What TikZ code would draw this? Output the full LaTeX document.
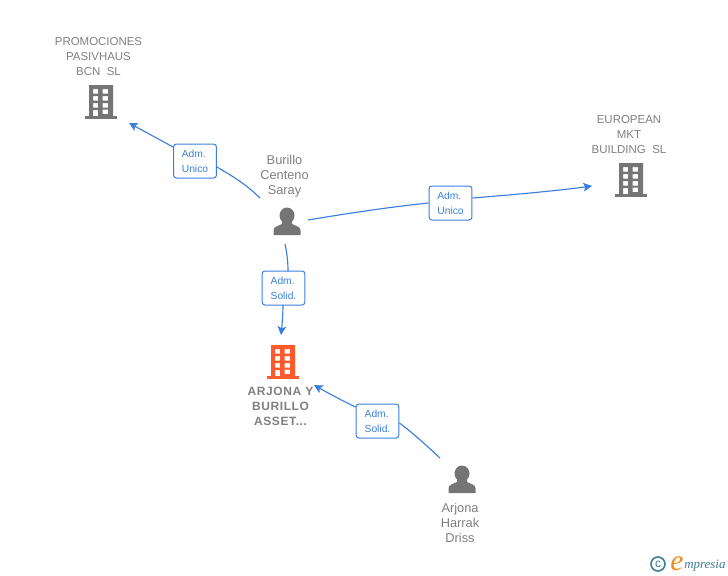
\documentclass[tikz,border=0pt]{standalone}
\usepackage{fontspec}
\setmainfont{Liberation Sans}
\newfontfamily\logofont{Liberation Serif}
\usetikzlibrary{arrows.meta}
\definecolor{namegray}{HTML}{808080}
\definecolor{icongray}{HTML}{757575}
\definecolor{iconorange}{HTML}{FF5A2B}
\definecolor{linkblue}{HTML}{3B7FDE}
\definecolor{logoblue}{HTML}{3F7C96}
\definecolor{logoorange}{HTML}{F28A1E}
\tikzset{
  x=.75pt,y=-.75pt,
  pics/bldg/.style={code={
    \fill[#1,even odd rule]
      (-12,-17) rectangle (12,14)
      (-8,-13) rectangle (-3,-8.5) (1.5,-13) rectangle (7,-8.5)
      (-8,-6) rectangle (-3,-1.5) (1.5,-6) rectangle (7,-1.5)
      (-8,1) rectangle (-3,5.5) (1.5,1) rectangle (7,5.5)
      (-8,8) rectangle (-3,14) (1.5,7.5) rectangle (7,12);
    \fill[#1] (-16,14) rectangle (16,17);
  }},
  pics/persona/.style={code={
    \fill[#1] (0,-6.5) ellipse [x radius=7.5,y radius=8];
    \fill[#1] (-13.5,13) -- (-13.5,8.5) .. controls (-13.5,4.5) and (-9,4) .. (-5,2)
      -- (-5,-2) -- (5,-2) -- (5,2) .. controls (9,4) and (13.5,4.5) .. (13.5,8.5) -- (13.5,13) -- cycle;
  }},
  iconspot/.style={inner sep=0pt,minimum size=1pt},
  nametext/.style={text=namegray,align=center,inner sep=0pt,font=\fontsize{8.6pt}{11.25pt}\selectfont},
  persontext/.style={text=namegray,align=center,inner sep=0pt,font=\fontsize{9.6pt}{11.25pt}\selectfont},
  targettext/.style={text=namegray,align=center,inner sep=0pt,font=\fontsize{9pt}{11.25pt}\selectfont\bfseries\addfontfeature{LetterSpace=5}},
  linkbox/.style={draw=linkblue,fill=white,rounded corners=2.2pt,line width=.75pt,text=linkblue,
    minimum width=32.2pt,minimum height=25.5pt,inner sep=0pt,align=left,
    font=\fontsize{7.7pt}{11.25pt}\selectfont},
  link/.style={draw=linkblue,line width=.85pt},
  linkarrow/.style={link,-{Stealth[length=6.5pt,width=6.5pt,inset=1.5pt]}},
}
\begin{document}
\begin{tikzpicture}
\useasboundingbox (0,0) rectangle (728,575);
\fill[white] (0,0) rectangle (728,575);

% icons
\node[iconspot] (promo) at (101,102) {};
\pic at (promo) {bldg=icongray};
\node[iconspot] (euro) at (631,180) {};
\pic at (euro) {bldg=icongray};
\node[iconspot] (arjona) at (283,362) {};
\pic at (arjona) {bldg=iconorange};
\node[iconspot] (saray) at (287,222) {};
\pic at (saray) {persona=icongray};
\node[iconspot] (driss) at (462,480) {};
\pic at (driss) {persona=icongray};

% texts
\node[nametext] (promotxt) at (98.5,56.5) {PROMOCIONES\\PASIVHAUS\\BCN\ \ SL};
\node[nametext] (eurotxt) at (629,134.5) {EUROPEAN\\MKT\\BUILDING\ \ SL};
\node[targettext] (arjonatxt) at (280.5,406) {ARJONA Y\\BURILLO\\ASSET...};
\node[persontext] (saraytxt) at (284.5,176.5) {Burillo\\Centeno\\Saray};
\node[persontext] (drisstxt) at (460,522.5) {Arjona\\Harrak\\Driss};

% link labels
\node[linkbox] (l1) at (195,161) {Adm.\\Unico};
\node[linkbox] (l2) at (450.5,203) {Adm.\\Unico};
\node[linkbox] (l3) at (283.5,288) {Adm.\\Solid.};
\node[linkbox] (l4) at (377.5,421) {Adm.\\Solid.};

% connector ends
\coordinate (s1) at (260,198);
\coordinate (t1) at (129,123);
\coordinate (s2) at (308,220);
\coordinate (t2) at (592,186);
\coordinate (s3) at (285,244);
\coordinate (t3) at (281,335);
\coordinate (s4) at (440,458);
\coordinate (t4) at (314,385);

% connectors
\draw[link] (s1) .. controls (246,184) and (232,176) .. (l1.east |- 0,167);
\draw[linkarrow] (l1.west |- 0,147) -- (t1);
\draw[link] (s2) .. controls (350,213) and (390,207) .. (l2.west |- 0,203);
\draw[linkarrow] (l2.east |- 0,198) .. controls (510,195) and (555,191) .. (t2);
\draw[link] (s3) .. controls (287,253) and (288,262) .. (288,271);
\draw[linkarrow] (283,305) .. controls (283,315) and (282,325) .. (t3);
\draw[link] (s4) .. controls (427,446) and (413,433) .. (l4.east |- 0,423);
\draw[linkarrow] (l4.west |- 0,407) .. controls (341,400) and (328,393) .. (t4);

% logo
\node[draw=logoblue,line width=1.2pt,circle,minimum size=10.5pt,inner sep=0pt,text=logoblue,
  font=\fontsize{9pt}{9pt}\selectfont] (copyr) at (658,564) {c};
\node[anchor=base,inner sep=0pt,text=logoorange,font=\logofont\itshape\fontsize{22pt}{22pt}\selectfont] (logoe) at (677,570) {e};
\node[anchor=base west,inner sep=0pt,text=logoblue,font=\logofont\itshape\fontsize{9.7pt}{10pt}\selectfont] (logot) at (684,568) {mpresia};
\end{tikzpicture}
\end{document}
